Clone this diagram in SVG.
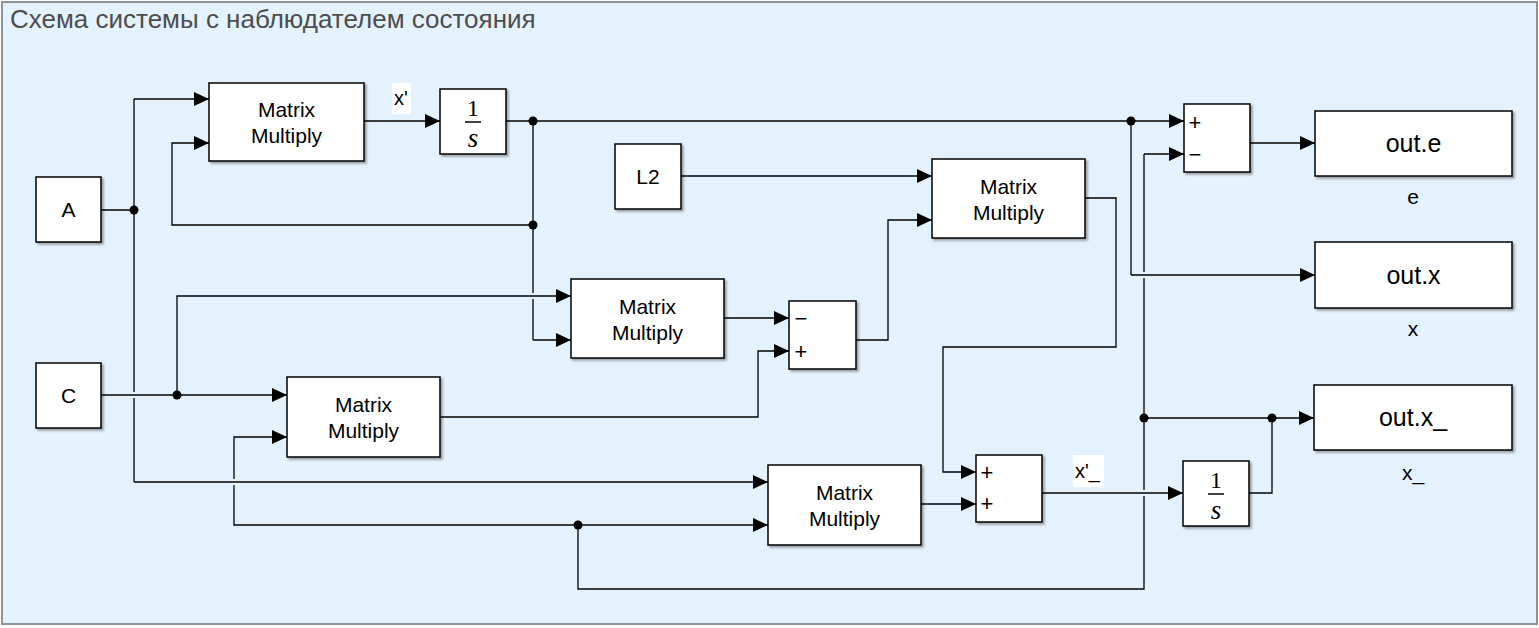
<svg xmlns="http://www.w3.org/2000/svg" width="1539" height="628" viewBox="0 0 1539 628">
<defs>
<filter id="sh" x="-10%" y="-10%" width="130%" height="130%">
<feDropShadow dx="2" dy="2" stdDeviation="1.2" flood-color="#000" flood-opacity="0.35"/>
</filter>
<marker id="arr" markerUnits="userSpaceOnUse" markerWidth="16" markerHeight="14" refX="15" refY="7" orient="auto">
<path d="M0,0 L15,7 L0,14 z" fill="#000"/>
</marker>
<style>
.blk{fill:#fff;stroke:#000;stroke-width:1.5;filter:url(#sh)}
.w{fill:none;stroke:#000;stroke-width:1.3}
.a{marker-end:url(#arr)}
.t{font-family:"Liberation Sans",Arial,sans-serif;font-size:21px;fill:#000;text-anchor:middle}
.o{font-family:"Liberation Sans",Arial,sans-serif;font-size:25px;fill:#000;text-anchor:middle}
.sg{font-family:"Liberation Sans",Arial,sans-serif;font-size:22px;fill:#000;text-anchor:middle}
.one{font-family:"Liberation Serif","Times New Roman",serif;font-size:24px;fill:#000;text-anchor:middle}
.s{font-family:"Liberation Serif","Times New Roman",serif;font-size:27px;font-style:italic;fill:#000;text-anchor:middle}
.lb{font-family:"Liberation Sans",Arial,sans-serif;font-size:20px;fill:#000}
.dot{fill:#000}
</style>
</defs>
<rect x="2" y="2" width="1535" height="622" fill="#E4F2FE" stroke="#8c919a" stroke-width="2"/>
<text x="10" y="28" font-family="'Liberation Sans',Arial,sans-serif" font-size="26" fill="#4d4d4d">Схема системы с наблюдателем состояния</text>

<g id="connectors">
<path class="w" d="M101,210 H134"/>
<path class="w" d="M134,99 V392 M134,398 V482"/>
<path class="w a" d="M134,99 H209"/>
<path class="w a" d="M134,482 H768"/>
<path class="w a" d="M364,121 H440"/>
<path class="w a" d="M506,121 H1184"/>
<path class="w" d="M533,121 V293 M533,299 V340"/>
<path class="w a" d="M533,340 H571"/>
<path class="w a" d="M533,225 H172 V143 H209"/>
<path class="w" d="M1131,121 V275"/>
<path class="w a" d="M1131,275 H1315"/>
<path class="w a" d="M681,176 H932"/>
<path class="w a" d="M101,395 H287"/>
<path class="w a" d="M177,395 V296 H571"/>
<path class="w a" d="M724,318 H789"/>
<path class="w a" d="M440,417 H758 V351 H789"/>
<path class="w a" d="M856,340 H888 V220 H932"/>
<path class="w a" d="M1085,198 H1116 V347 H943 V472 H976"/>
<path class="w a" d="M921,504 H976"/>
<path class="w a" d="M1042,493 H1183"/>
<path class="w a" d="M1250,143 H1315"/>
<path class="w a" d="M1249,493 H1272 V418 H1314"/>
<path class="w" d="M1272,418 H1144"/>
<path class="w a" d="M1144,154 H1184"/>
<path class="w" d="M1144,154 V272 M1144,278 V490 M1144,496 V589 H578 V525"/>
<path class="w a" d="M578,525 H768"/>
<path class="w a" d="M578,525 H234 V485 M234,479 V437 H287"/>
<circle class="dot" cx="134" cy="210" r="4.5"/>
<circle class="dot" cx="533" cy="121" r="4.5"/>
<circle class="dot" cx="533" cy="225" r="4.5"/>
<circle class="dot" cx="1131" cy="121" r="4.5"/>
<circle class="dot" cx="177" cy="395" r="4.5"/>
<circle class="dot" cx="1272" cy="418" r="4.5"/>
<circle class="dot" cx="1144" cy="418" r="4.5"/>
<circle class="dot" cx="578" cy="525" r="4.5"/>
<rect x="392" y="83" width="19" height="31" fill="#fff"/>
<text class="lb" x="394" y="105">x'</text>
<rect x="1073" y="455" width="31" height="32" fill="#fff"/>
<text class="lb" x="1075" y="478">x'_</text>
</g>

<g id="A"><rect class="blk" x="36" y="177" width="65" height="65"/><text class="t" x="68.5" y="217">A</text></g>
<g id="C"><rect class="blk" x="36" y="363" width="65" height="65"/><text class="t" x="68.5" y="403">C</text></g>
<g id="L2"><rect class="blk" x="615" y="144" width="66" height="65"/><text class="t" x="648" y="184">L2</text></g>

<g id="mm1"><rect class="blk" x="209" y="83" width="155" height="78"/><text class="t" x="286.5" y="117">Matrix</text><text class="t" x="286.5" y="143">Multiply</text></g>
<g id="mm2"><rect class="blk" x="571" y="279" width="153" height="79"/><text class="t" x="647.5" y="314">Matrix</text><text class="t" x="647.5" y="340">Multiply</text></g>
<g id="mm3"><rect class="blk" x="932" y="159" width="153" height="79"/><text class="t" x="1008.5" y="194">Matrix</text><text class="t" x="1008.5" y="220">Multiply</text></g>
<g id="mmC"><rect class="blk" x="287" y="377" width="153" height="80"/><text class="t" x="363.5" y="412">Matrix</text><text class="t" x="363.5" y="438">Multiply</text></g>
<g id="mm4"><rect class="blk" x="768" y="465" width="153" height="80"/><text class="t" x="844.5" y="500">Matrix</text><text class="t" x="844.5" y="526">Multiply</text></g>

<g id="int1"><rect class="blk" x="440" y="89" width="66" height="65"/><text class="one" x="473" y="116">1</text><line x1="465" y1="122" x2="481" y2="122" stroke="#000" stroke-width="1.5"/><text class="s" x="473" y="147">s</text></g>
<g id="int2"><rect class="blk" x="1183" y="461" width="66" height="65"/><text class="one" x="1216" y="488">1</text><line x1="1208" y1="494" x2="1224" y2="494" stroke="#000" stroke-width="1.5"/><text class="s" x="1216" y="519">s</text></g>

<g id="sumE"><rect class="blk" x="1184" y="104" width="66" height="68"/><text class="sg" x="1195" y="130">+</text><text class="sg" x="1195" y="162">−</text></g>
<g id="sum1"><rect class="blk" x="789" y="301" width="67" height="68"/><text class="sg" x="801" y="326">−</text><text class="sg" x="801" y="359">+</text></g>
<g id="sum2"><rect class="blk" x="976" y="455" width="66" height="67"/><text class="sg" x="987" y="480">+</text><text class="sg" x="987" y="511">+</text></g>

<g id="oute"><rect class="blk" x="1315" y="111" width="197" height="65"/><text class="o" x="1413.5" y="152">out.e</text><text class="t" x="1413" y="204">e</text></g>
<g id="outx"><rect class="blk" x="1315" y="242" width="197" height="66"/><text class="o" x="1413.5" y="284">out.x</text><text class="t" x="1413" y="336">x</text></g>
<g id="outx_"><rect class="blk" x="1314" y="385" width="198" height="65"/><text class="o" x="1413" y="426">out.x_</text><text class="t" x="1413" y="480">x_</text></g>
</svg>
